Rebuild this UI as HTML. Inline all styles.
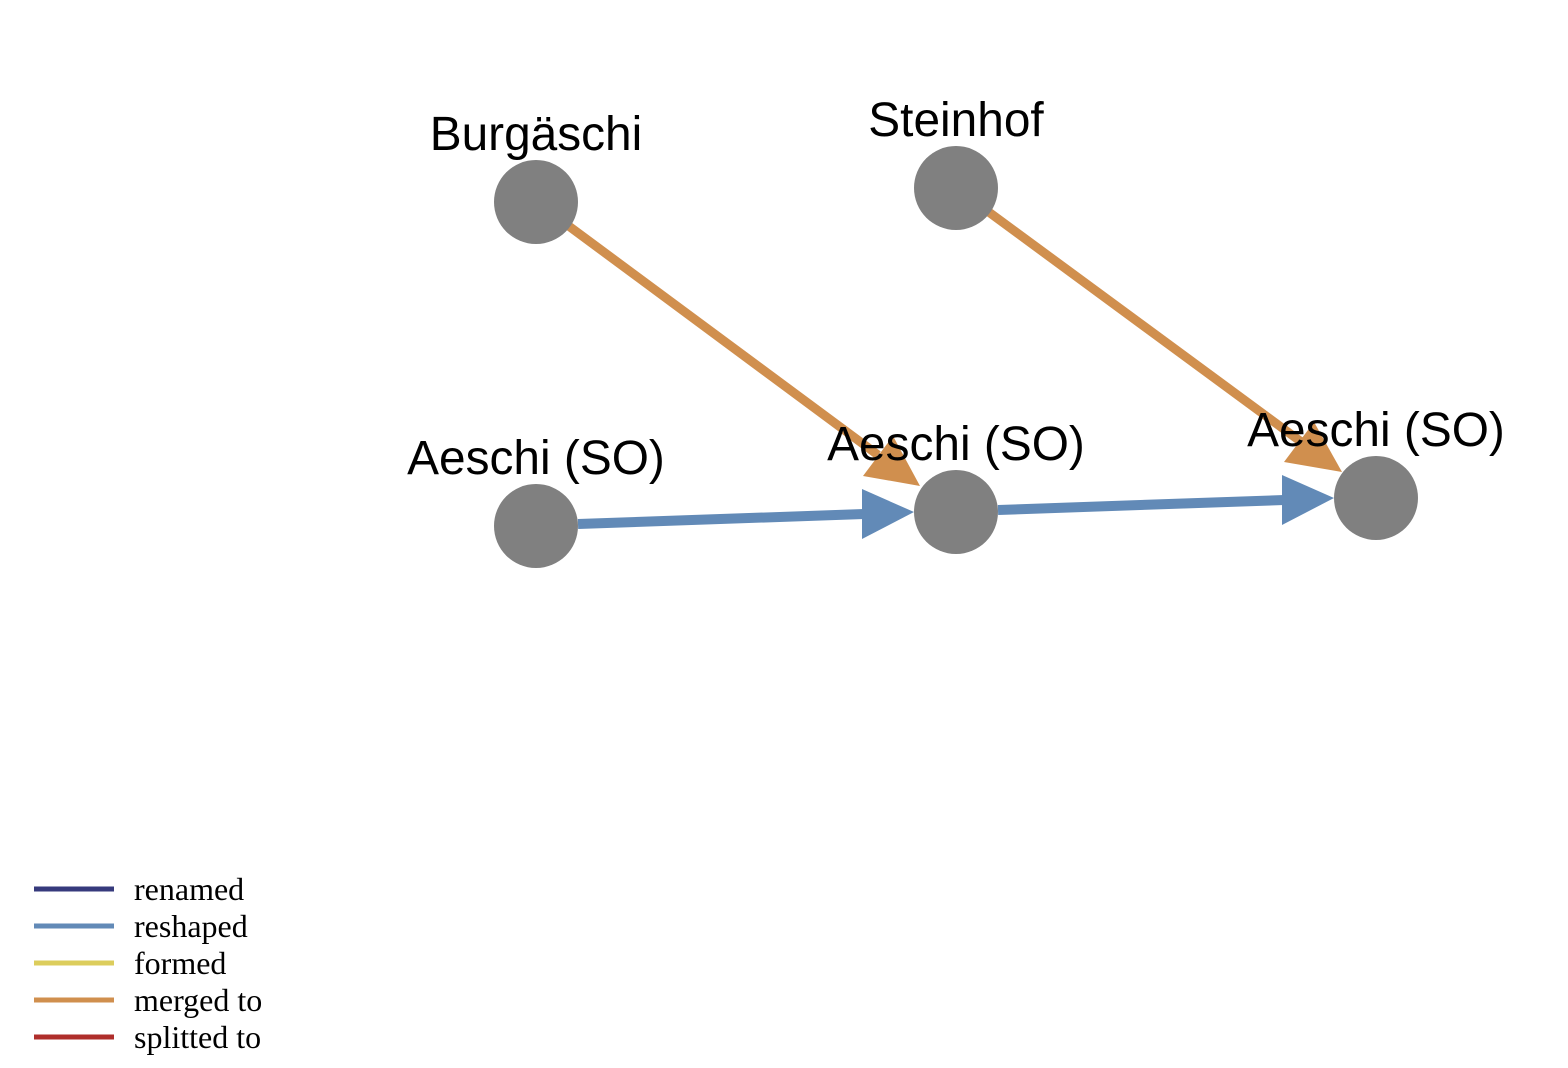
<!DOCTYPE html>
<html><head><meta charset="utf-8"><style>html,body{margin:0;padding:0;background:#fff}svg{display:block}</style></head>
<body>
<svg width="1568" height="1068" viewBox="0 0 1568 1068" xmlns="http://www.w3.org/2000/svg">
<g stroke-width="9" fill="none">
<line x1="566" y1="224" x2="878" y2="455" stroke="#D08F4E"/>
<line x1="986" y1="210" x2="1300" y2="441" stroke="#D08F4E"/>
<line x1="578" y1="524" x2="864" y2="514" stroke="#628AB7" stroke-width="10"/>
<line x1="998" y1="510" x2="1284" y2="500" stroke="#628AB7" stroke-width="10"/>
</g>
<polygon points="920,486 863,476 893,436" fill="#D08F4E"/>
<polygon points="1342,472 1284,462 1314,422" fill="#D08F4E"/>
<polygon points="914,512 862,489 862,539" fill="#628AB7"/>
<polygon points="1334,498 1282,475 1282,525" fill="#628AB7"/>
<g fill="#808080">
<circle cx="536" cy="202" r="42"/>
<circle cx="956" cy="188" r="42"/>
<circle cx="536" cy="526" r="42"/>
<circle cx="956" cy="512" r="42"/>
<circle cx="1376" cy="498" r="42"/>
</g>
<g font-family="Liberation Sans, sans-serif" font-size="47.8" text-anchor="middle" fill="#000">
<text x="536" y="150">Burgäschi</text>
<text x="956" y="136">Steinhof</text>
<text x="536" y="474">Aeschi (SO)</text>
<text x="956" y="460">Aeschi (SO)</text>
<text x="1376" y="446">Aeschi (SO)</text>
</g>
<g stroke-width="5">
<line x1="34" y1="889" x2="114" y2="889" stroke="#363A7C"/>
<line x1="34" y1="926" x2="114" y2="926" stroke="#628AB7"/>
<line x1="34" y1="963" x2="114" y2="963" stroke="#DCCD5C"/>
<line x1="34" y1="1000" x2="114" y2="1000" stroke="#D08F4E"/>
<line x1="34" y1="1037" x2="114" y2="1037" stroke="#AF2E2B"/>
</g>
<g font-family="Liberation Serif, serif" font-size="32" fill="#000">
<text x="134" y="900">renamed</text>
<text x="134" y="937">reshaped</text>
<text x="134" y="974">formed</text>
<text x="134" y="1011">merged to</text>
<text x="134" y="1048">splitted to</text>
</g>
</svg>
</body></html>
